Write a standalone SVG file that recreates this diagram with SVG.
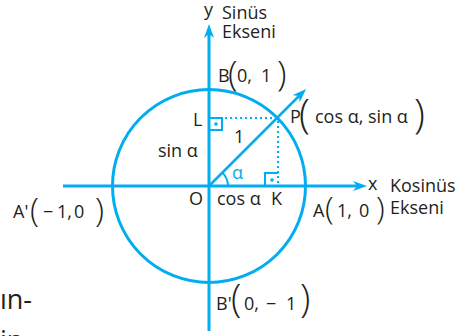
<svg xmlns="http://www.w3.org/2000/svg" width="467" height="336" viewBox="0 0 467 336">
<defs>
<marker id="ah" viewBox="0 0 14 10" markerWidth="14" markerHeight="10" refX="4" refY="5" orient="auto" markerUnits="userSpaceOnUse">
<path d="M0,0 L14,5 L0,10 L4,5 z" fill="#00aeef"/>
</marker>
<style>
.t{font-family:"Open Sans","Liberation Sans",sans-serif;font-size:18px;fill:#231f20}
.p{font-weight:300}
.b{fill:#00aeef}
.ln{stroke:#00aeef;fill:none}
.dot{stroke:#00aeef;stroke-width:2;stroke-dasharray:2 3;fill:none}
.sq{stroke:#00aeef;stroke-width:2;fill:none}
</style>
</defs>
<rect width="467" height="336" fill="#ffffff"/>
<g id="circle">
<circle cx="209" cy="186" r="96.5" class="ln" stroke-width="3"/>
</g>
<g id="connectors">
<line x1="209" y1="331" x2="209" y2="34" class="ln" stroke-width="3" marker-end="url(#ah)"/>
<line x1="63" y1="186" x2="357" y2="186" class="ln" stroke-width="3" marker-end="url(#ah)"/>
<line x1="209" y1="186" x2="299" y2="96" class="ln" stroke-width="2.5" marker-end="url(#ah)"/>
<line x1="210" y1="118" x2="277" y2="118" class="dot"/>
<line x1="278" y1="121" x2="278" y2="185" class="dot"/>
<path d="M209,118 H222 V130 H209" class="sq"/>
<circle cx="216" cy="124" r="1.8" class="b"/>
<path d="M265,186 V173 H278" class="sq"/>
<circle cx="272" cy="180" r="1.8" class="b"/>
<path d="M228,186 A19,19 0 0 0 222.4,172.6" class="ln" stroke-width="2"/>
</g>
<g id="axis-y">
<text class="t" x="204" y="16">y</text>
<text class="t" x="222" y="19">Sinüs</text>
<text class="t" x="222" y="38">Ekseni</text>
</g>
<g id="axis-x">
<text class="t" x="368" y="190">x</text>
<text class="t" x="390" y="192">Kosinüs</text>
<text class="t" x="390" y="214">Ekseni</text>
</g>
<g id="B">
<text class="t" x="218" y="82">B</text>
<text class="t p" x="228" y="86" style="font-size:35px">(</text>
<text class="t" x="237" y="82">0,</text>
<text class="t" x="261" y="82">1</text>
<text class="t p" x="277" y="86" style="font-size:35px">)</text>
</g>
<g id="Bp">
<text class="t" x="216" y="310">B'</text>
<text class="t p" x="231" y="312" style="font-size:38px">(</text>
<text class="t" x="244" y="310">0,</text>
<text class="t" x="266" y="310">−</text>
<text class="t" x="286" y="310">1</text>
<text class="t p" x="300" y="312" style="font-size:38px">)</text>
</g>
<g id="A">
<text class="t" x="313" y="217">A</text>
<text class="t p" x="325" y="219" style="font-size:32px">(</text>
<text class="t" x="337" y="217">1,</text>
<text class="t" x="359" y="217">0</text>
<text class="t p" x="376" y="219" style="font-size:32px">)</text>
</g>
<g id="Ap">
<text class="t" x="13" y="218">A'</text>
<text class="t p" x="30" y="222" style="font-size:33px">(</text>
<text class="t" x="43" y="218">−</text>
<text class="t" x="57" y="218">1,</text>
<text class="t" x="74" y="218">0</text>
<text class="t p" x="95" y="222" style="font-size:33px">)</text>
</g>
<g id="P">
<text class="t" x="290" y="123">P</text>
<text class="t p" x="299" y="128" style="font-size:40px">(</text>
<text class="t" x="315" y="123">cos α, sin α</text>
<text class="t p" x="414" y="128" style="font-size:40px">)</text>
</g>
<g id="L"><text class="t" x="193" y="126">L</text></g>
<g id="one"><text class="t" x="234" y="143">1</text></g>
<g id="sin"><text class="t" x="158" y="157">sin α</text></g>
<g id="alpha"><text class="t b" x="232" y="179">α</text></g>
<g id="O"><text class="t" x="189" y="205">O</text></g>
<g id="cos"><text class="t" x="217" y="205">cos α</text></g>
<g id="K"><text class="t" x="271" y="205">K</text></g>
<g id="body">
<text class="t" x="0" y="309" style="font-size:27px">ın-</text>
<text class="t" x="0" y="350" style="font-size:27px">in-</text>
</g>
</svg>
